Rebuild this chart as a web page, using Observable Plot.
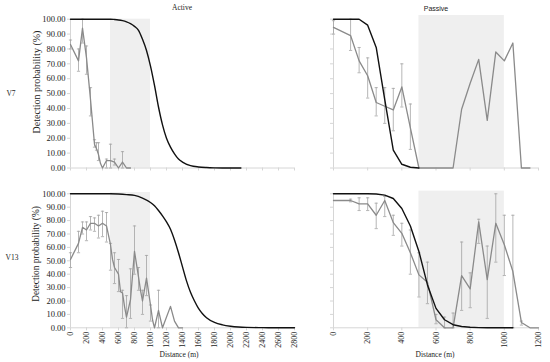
<!DOCTYPE html>
<html>
<head>
<meta charset="utf-8">
<script src="https://cdn.jsdelivr.net/npm/d3@7"></script>
<script src="https://cdn.jsdelivr.net/npm/@observablehq/plot@0.6"></script>
<style>
  html, body { margin: 0; padding: 0; background: #fff; }
  #chart { position: relative; width: 550px; height: 362px; overflow: hidden; background: #fff; }
  .p { position: absolute; }
  .lbl { position: absolute; white-space: nowrap; color: #222; font-family: "Liberation Serif", serif; line-height: 1; }
</style>
</head>
<body>
<div id="chart"></div>
<script>
// ---------- DATA ----------
const leftTicks = [0,200,400,600,800,1000,1200,1400,1600,1800,2000,2200,2400,2600,2800];
const rightTicks = [0,200,400,600,800,1000,1200];
const yTicks = [0,10,20,30,40,50,60,70,80,90,100];
const shadeStart = 500, shadeEnd = 1000;

// Active V7
const tlModelD = [0,100,200,300,400,500,550,600,650,700,750,800,850,900,950,1000,1050,1100,1150,1200,1250,1300,1350,1400,1500,1600,1700,1800,1900,2000,2130];
const tlModelV = [100,100,100,100,100,100,99.8,99.5,99,98.2,97,95.2,92.5,86.5,79,68.5,55.5,41,29,20,14,9.5,6,4,1.6,0.7,0.3,0.1,0,0,0];
const tlObsD = [0,100,150,200,250,300,325,350,375,400,450,500,550,600,650,700,750];
const tlObsV = [83,72,94,74,46,16,13,9,3,0,5,5,4,0,4,0,0];
const tlErrD = [0,100,150,200,250,300,325,350,450,500,550,650];
const tlErrLo = [80,65,84,63,35,14,12,5,0,0,2,0];
const tlErrHi = [86,80,100,82,54,19,17,17,6,16,6,11];

// Passive V7
const trModelD = [0,50,100,150,200,250,300,350,400,450,500];
const trModelV = [100,100,100,100,96,81,46,12,2.5,0.5,0];
const trObsD = [0,100,150,200,250,300,350,400,450,500,550,600,650,700,750,800,850,900,950,1000,1050,1100,1150];
const trObsV = [94.5,89,72,62,44,41.5,39,54.5,27,0,0,0,0,0,39.5,57,73,32,78,72,84,0,0];
const trErrD = [0,100,150,200,250,300,350,400,450];
const trErrLo = [90,79,64,47,35,30,25,41,12.5];
const trErrHi = [99,100,81,74,54,54,53.5,70,43];

// Active V13
const blModelD = [0,500,600,700,800,900,1000,1050,1100,1150,1200,1250,1300,1350,1400,1450,1500,1550,1600,1650,1700,1800,1900,2000,2100,2200,2400,2600,2800];
const blModelV = [100,100,99.8,99.4,98.8,96.8,93.5,91,87.5,83.5,79,73.5,65.5,56,45.5,35,26.5,20,14.5,10.5,7.5,4,2.2,1.2,0.6,0.3,0.1,0,0];
const blObsD = [0,100,150,200,250,300,350,400,450,500,525,550,600,625,650,675,700,750,800,850,875,900,950,1000,1025,1050,1100,1150,1250,1300,1350,1400];
const blObsV = [51,63,75,73,78,78,76,78,76,62,51,45,40,27,26,16,8,21,57,38,28,20,37,17,6,0,13,0,16,5,0,0];
const blErrD = [0,100,150,200,250,300,350,400,450,500,550,600,650,700,750,800,850,900,950,1000,1100];
const blErrLo = [45,56,70,65,73,72,67,68,64,43,33,27,7,0,7,40,28,10,24,5,0];
const blErrHi = [56,72,79,79,83,82,84,87,86,63,56,51,28,24,44,76,45,28,54,17,28];

// Passive V13
const brModelD = [0,50,100,150,200,250,300,350,400,450,500,550,600,650,700,750,800,850,900,950,1000,1050];
const brModelV = [100,100,100,100,100,99.8,99,96.5,89,76,57,32,14.5,6,2.3,1,0.4,0.1,0,0,0,0];
const brObsD = [0,100,150,200,250,300,350,400,450,500,550,600,650,700,750,800,850,900,950,1000,1050,1100,1150,1200];
const brObsV = [95,95,92.5,92.5,84,95,78.5,70.5,56,39.5,34,6,0,0,39,29,79,36,78,62,42,4,0,0];
const brErrD = [100,150,200,250,300,350,400,450,500,550,600,650,700,750,800,850,900,950,1000,1050,1100];
const brErrLo = [94,87.5,87.5,74,83,69,61,40,23,18,3,0,0,13,15,63,7,49,39,0,2];
const brErrHi = [96,97,97,93,98,84,78,73,56,49,10,8,11,64,41,81,61,100,84,84,5];

// ---------- BUILD ----------
const zip2 = (d, v) => d.map((x, i) => ({d: x, v: v[i]}));
const zipErr = (d, lo, hi) => d.map((x, i) => ({d: x, lo: lo[i], hi: hi[i]}));
const capSymbol = { draw(ctx, size) { const r = Math.sqrt(size / Math.PI); ctx.moveTo(-r, 0); ctx.lineTo(r, 0); } };

const AXIS = "#d6d6d6", GRAYLINE = "#8a8a8a", ERR = "#a3a3a3";

function panel(o) {
  const err = zipErr(o.errD, o.errLo, o.errHi);
  return Plot.plot({
    width: o.width, height: o.height,
    marginLeft: o.ml, marginRight: o.mr, marginTop: o.mt, marginBottom: o.mb,
    style: { fontFamily: "'Liberation Serif', serif", fontSize: "8px", background: "transparent", overflow: "visible", color: "#222" },
    x: { domain: o.xDomain },
    y: { domain: [0, 100] },
    marks: [
      Plot.rect([{a: shadeStart, b: shadeEnd}], { x1: "a", x2: "b", y1: 0, y2: o.shadeTop, fill: "#efefef" }),
      Plot.ruleY([0], { stroke: AXIS, strokeWidth: 1 }),
      Plot.ruleX([0], { y1: 0, y2: 100, stroke: AXIS, strokeWidth: 1 }),
      Plot.axisY({ ticks: yTicks, tickSize: 3, tickPadding: 2, stroke: AXIS, fill: "#222", fontSize: 8.5,
        tickFormat: o.yLabels ? (d => d.toFixed(2)) : (() => ""), label: null }),
      Plot.axisX({ ticks: o.xTicks, tickSize: 3, tickPadding: 1, stroke: AXIS, fill: "#222", fontSize: 8,
        tickRotate: o.xLabels ? -90 : 0,
        tickFormat: o.xLabels ? (d => String(d)) : (() => ""), label: null }),
      Plot.ruleX(err, { x: "d", y1: "lo", y2: "hi", stroke: ERR, strokeWidth: 0.8 }),
      Plot.dot(err, { x: "d", y: "lo", symbol: capSymbol, r: 1.6, stroke: ERR, fill: "none", strokeWidth: 0.8 }),
      Plot.dot(err, { x: "d", y: "hi", symbol: capSymbol, r: 1.6, stroke: ERR, fill: "none", strokeWidth: 0.8 }),
      Plot.line(zip2(o.obsD, o.obsV), { x: "d", y: "v", stroke: GRAYLINE, strokeWidth: 1.3 }),
      Plot.line(zip2(o.modelD, o.modelV), { x: "d", y: "v", stroke: "#111", strokeWidth: 1.4, curve: o.smooth ? "monotone-x" : "linear" })
    ]
  });
}

const chart = document.getElementById("chart");
function place(el, left, top) { el.classList.add("p"); el.style.left = left + "px"; el.style.top = top + "px"; chart.appendChild(el); }

place(panel({ width: 300, height: 180, ml: 70, mr: 6, mt: 18.7, mb: 12.5, xDomain: [0, 2800], xTicks: leftTicks,
  yLabels: true, xLabels: false, shadeTop: 100, smooth: true,
  modelD: tlModelD, modelV: tlModelV, obsD: tlObsD, obsV: tlObsV, errD: tlErrD, errLo: tlErrLo, errHi: tlErrHi }), 0, 0);
place(panel({ width: 250, height: 180, ml: 33, mr: 12, mt: 18.7, mb: 12.5, xDomain: [0, 1200], xTicks: rightTicks,
  yLabels: false, xLabels: false, shadeTop: 102.5, smooth: false,
  modelD: trModelD, modelV: trModelV, obsD: trObsD, obsV: trObsV, errD: trErrD, errLo: trErrLo, errHi: trErrHi }), 300, 0);
place(panel({ width: 300, height: 182, ml: 70, mr: 6, mt: 13.3, mb: 34.7, xDomain: [0, 2800], xTicks: leftTicks,
  yLabels: true, xLabels: true, shadeTop: 101, smooth: true,
  modelD: blModelD, modelV: blModelV, obsD: blObsD, obsV: blObsV, errD: blErrD, errLo: blErrLo, errHi: blErrHi }), 0, 180);
place(panel({ width: 250, height: 182, ml: 33, mr: 12, mt: 13.3, mb: 34.7, xDomain: [0, 1200], xTicks: rightTicks,
  yLabels: false, xLabels: true, shadeTop: 102, smooth: false,
  modelD: brModelD, modelV: brModelV, obsD: brObsD, obsV: brObsV, errD: brErrD, errLo: brErrLo, errHi: brErrHi }), 300, 180);

function label(text, cx, cy, size, opts = {}) {
  const d = document.createElement("div");
  d.className = "lbl";
  d.textContent = text;
  d.style.left = cx + "px"; d.style.top = cy + "px";
  d.style.fontSize = size + "px";
  if (opts.family) d.style.fontFamily = opts.family;
  d.style.transform = "translate(-50%,-50%)" + (opts.rotate ? " rotate(-90deg)" : "");
  chart.appendChild(d);
}
label("Active", 182, 8, 7.5);
label("Passive", 436, 8, 7, { family: "'Liberation Sans', sans-serif" });
label("V7", 11, 94, 7.5);
label("V13", 12, 258, 7.5);
label("Detection probability (%)", 37, 82, 10, { rotate: true });
label("Detection probability (%)", 37, 254, 9.3, { rotate: true });
label("Distance (m)", 179, 355, 7.5);
label("Distance (m)", 435, 355, 7.5);
</script>
</body>
</html>
